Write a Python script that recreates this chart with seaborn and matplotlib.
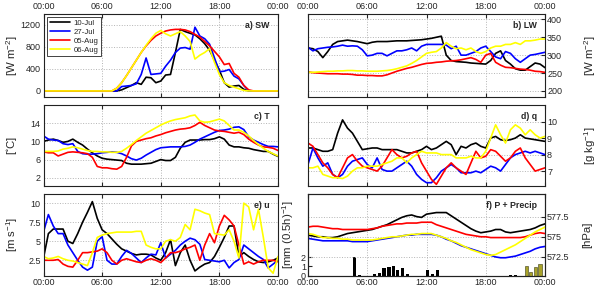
import numpy as np
import pandas as pd
import matplotlib
matplotlib.use('Agg')
import matplotlib.pyplot as plt
import seaborn as sns
from matplotlib.ticker import FuncFormatter

'''
data, half hourly from 00:00 to 24:00
'''
hours = np.arange(0, 24.5, 0.5)
days = ['10-Jul', '27-Jul', '05-Aug', '06-Aug']
day_colors = ['black', '#0000ff', '#ff0000', '#ffff00']

# a) SW  [W m-2]
sw_jul10 = [0]*16 + [20, 60, 100, 150, 120, 250, 240, 150, 180, 290, 300, 700, 1120, 1080, 1050, 1020,
                     950, 860, 740, 560, 380, 150, 70, 90, 100, 30, 0] + [0]*6
sw_jul27 = [0]*16 + [80, 90, 100, 130, 300, 600, 300, 310, 320, 450, 560, 700, 780, 790, 760, 1160,
                     1000, 950, 850, 600, 350, 360, 390, 270, 220, 100, 0] + [0]*6
sw_aug05 = [0]*15 + [50, 150, 280, 420, 560, 700, 820, 920, 1000, 1050, 1090, 1110, 1120, 1120, 1110,
                     1080, 1030, 980, 900, 820, 720, 620, 480, 500, 320, 250, 100, 20, 0] + [0]*5
sw_aug06 = [0]*15 + [50, 150, 280, 420, 560, 700, 830, 950, 1050, 1100, 1040, 1000, 1040, 1080, 1000,
                     900, 580, 650, 700, 770, 520, 300, 150, 100, 70, 40, 10, 0, 0] + [0]*5

# b) LW  [W m-2]
lw_jul10 = [320, 318, 310, 293, 310, 330, 338, 340, 342, 340, 338, 335,
            332, 336, 338, 338, 338, 339, 340, 340, 340, 341, 342, 343,
            345, 347, 350, 353, 300, 285, 282, 281, 280, 278, 277, 276,
            275, 285, 305, 312, 285, 275, 262, 258, 258, 268, 278, 275, 265]
lw_jul27 = [322, 312, 318, 320, 322, 323, 325, 328, 325, 326, 325, 315,
            298, 300, 305, 305, 298, 305, 312, 312, 315, 320, 312, 325,
            330, 330, 330, 330, 328, 318, 325, 300, 300, 305, 310, 320,
            325, 310, 295, 290, 310, 305, 290, 280, 290, 300, 302, 305, 308]
lw_aug05 = [253, 251, 250, 249, 248, 248, 248, 247, 247, 246, 244, 244,
            243, 243, 242, 242, 245, 250, 255, 259, 263, 266, 270, 274,
            277, 278, 280, 281, 283, 284, 285, 287, 290, 293, 288, 280,
            300, 305, 280, 272, 266, 265, 263, 261, 260, 258, 255, 254, 252]
lw_aug06 = [252, 252, 253, 254, 255, 255, 256, 256, 257, 257, 256, 256,
            255, 255, 255, 256, 257, 259, 262, 266, 270, 277, 285, 295,
            305, 308, 310, 320, 335, 325, 318, 320, 315, 320, 310, 305,
            310, 320, 325, 325, 330, 330, 335, 330, 340, 340, 342, 345, 345]

# c) T  [degC]
t_jul10 = [10.0, 10.3, 10.5, 10.2, 9.8, 10.0, 10.5, 9.8, 9.2, 8.3, 7.5, 6.8,
           6.3, 6.1, 6.0, 5.9, 5.8, 5.2, 5.0, 5.0, 5.0, 5.1, 5.2, 5.6,
           6.0, 5.8, 5.8, 6.5, 8.5, 9.8, 10.3, 10.3, 10.3, 10.4, 10.4, 10.6,
           11.0, 10.5, 9.2, 8.8, 8.8, 8.6, 8.5, 8.2, 8.0, 7.8, 7.8, 7.2, 6.7]
t_jul27 = [11.2, 10.5, 10.3, 10.2, 9.5, 9.3, 9.5, 7.8, 7.3, 7.2, 7.2, 7.3,
           7.5, 7.6, 7.7, 7.6, 7.3, 6.8, 6.2, 5.9, 6.3, 7.0, 7.6, 8.2,
           8.6, 8.7, 8.8, 8.8, 8.8, 8.9, 9.2, 9.8, 10.5, 11.0, 11.5, 12.0,
           12.4, 12.5, 12.7, 13.1, 13.2, 12.6, 11.0, 10.3, 9.8, 9.3, 8.9, 8.9, 8.8]
t_aug05 = [7.7, 7.5, 7.5, 6.8, 7.2, 7.6, 7.7, 7.6, 7.5, 7.3, 6.5, 4.5,
           4.2, 4.2, 4.0, 3.9, 4.5, 6.5, 9.0, 10.0, 10.3, 10.6, 10.8, 11.2,
           11.5, 11.9, 12.2, 12.5, 12.7, 12.8, 13.0, 13.5, 14.2, 13.5, 13.0, 12.5,
           12.3, 12.2, 12.0, 11.8, 12.0, 11.5, 10.5, 9.8, 9.2, 8.8, 8.7, 8.5, 8.0]
t_aug06 = [7.8, 7.8, 7.8, 7.9, 8.3, 8.5, 8.8, 8.6, 8.3, 8.0, 7.8, 7.8,
           7.7, 7.7, 7.6, 7.6, 7.8, 8.5, 9.3, 10.2, 11.0, 11.8, 12.4, 13.0,
           13.6, 14.1, 14.5, 14.8, 15.0, 15.2, 15.6, 15.8, 14.5, 14.2, 14.3, 14.6,
           14.9, 14.5, 13.5, 12.5, 12.5, 12.0, 11.2, 10.2, 9.3, 8.5, 7.8, 7.3, 6.8]

# d) q  [g kg-1]
q_jul10 = [8.4, 8.4, 8.3, 8.2, 8.2, 8.3, 9.3, 10.1, 9.6, 9.3, 8.8, 8.3,
           8.35, 8.4, 8.4, 8.3, 8.3, 8.3, 8.3, 8.2, 8.1, 8.1, 8.2, 8.3,
           8.5, 8.3, 8.4, 8.6, 8.8, 8.6, 8.0, 8.5, 8.4, 8.6, 8.7, 8.5,
           8.4, 9.0, 9.1, 8.9, 8.85, 8.9, 9.0, 9.2, 9.0, 8.95, 8.9, 8.85, 8.8]
q_jul27 = [7.4, 8.4, 7.8, 7.3, 7.5, 6.8, 6.6, 6.8, 7.3, 7.6, 7.7, 7.8,
           7.4, 7.2, 7.8, 7.1, 7.0, 7.0, 7.2, 7.4, 7.6, 7.3, 6.8, 6.5,
           6.3, 6.3, 6.6, 7.0, 7.2, 7.4, 7.2, 6.9, 6.9, 6.9, 7.0, 6.9,
           7.1, 7.3, 7.2, 7.0, 7.4, 7.8, 8.0, 8.1, 8.2, 8.1, 8.2, 8.1, 8.0]
q_aug05 = [8.7, 8.5, 8.0, 7.5, 7.2, 6.8, 6.6, 7.2, 7.8, 8.0, 7.6, 7.3,
           7.2, 7.1, 7.0, 7.3, 7.8, 8.3, 8.0, 7.8, 7.9, 8.1, 8.2, 7.5,
           7.0, 6.5, 6.2, 6.7, 7.2, 7.5, 7.2, 7.0, 6.8, 7.5, 8.2, 7.8,
           7.9, 8.3, 8.2, 7.9, 7.6, 7.8, 8.2, 8.4, 7.8, 7.4, 7.0, 7.1, 7.2]
q_aug06 = [7.2, 7.2, 7.3, 6.8, 6.7, 6.6, 6.6, 6.55, 6.7, 7.0, 7.2, 7.2,
           7.3, 7.3, 7.3, 7.4, 7.5, 7.6, 7.8, 7.8, 7.5, 7.8, 8.0, 8.2,
           8.1, 8.1, 8.1, 8.0, 8.0, 8.0, 7.8, 7.8, 7.8, 7.9, 7.8, 7.8,
           8.2, 9.0, 9.8, 9.2, 8.7, 9.5, 9.8, 9.6, 9.2, 9.5, 9.2, 9.0, 9.1]

# e) u  [m s-1]
u_jul10 = [2.8, 6.0, 6.6, 6.6, 6.6, 5.0, 4.7, 6.0, 7.5, 8.8, 10.2, 8.0,
           6.5, 6.0, 5.3, 4.6, 4.0, 3.7, 3.4, 3.2, 3.3, 3.3, 3.2, 2.8,
           2.5, 3.5, 5.2, 1.8, 3.5, 4.5, 2.5, 1.1, 1.6, 2.0, 2.2, 3.0,
           4.2, 5.5, 7.0, 7.0, 3.0, 3.5, 3.0, 2.6, 2.3, 2.2, 2.3, 2.5, 2.8]
u_jul27 = [6.2, 8.5, 7.0, 6.0, 6.0, 4.5, 3.5, 2.5, 1.6, 1.2, 1.6, 5.0,
           5.6, 2.5, 2.0, 2.0, 3.0, 3.8, 3.4, 2.8, 2.2, 2.8, 3.3, 3.2,
           4.8, 2.8, 3.3, 3.8, 4.5, 5.0, 5.4, 5.2, 4.6, 2.6, 2.5, 2.4,
           2.3, 2.5, 1.5, 2.2, 2.6, 4.5, 4.0, 3.5, 3.0, 2.6, 1.5, 2.0, 2.5]
u_aug05 = [2.5, 2.5, 2.5, 2.6, 2.0, 1.7, 1.6, 2.5, 3.5, 3.5, 3.6, 3.7,
           4.0, 3.5, 2.5, 2.0, 2.5, 2.7, 2.5, 2.3, 2.2, 2.5, 2.7, 2.5,
           2.2, 2.8, 3.5, 3.5, 3.7, 4.0, 4.2, 4.5, 2.5, 4.5, 6.0, 4.8,
           7.0, 8.4, 7.8, 7.0, 4.5, 2.0, 2.3, 2.0, 2.3, 2.5, 2.5, 2.5, 2.3]
u_aug06 = [3.0, 2.7, 2.8, 3.0, 2.7, 2.5, 2.4, 2.2, 2.0, 1.8, 3.5, 5.5,
           5.8, 6.0, 6.1, 6.2, 6.2, 6.2, 6.2, 6.3, 6.3, 4.5, 4.2, 4.0,
           4.0, 5.0, 5.2, 5.0, 5.5, 7.2, 6.5, 9.2, 9.0, 8.7, 8.5, 6.0,
           5.9, 5.8, 6.5, 5.0, 2.8, 10.0, 9.5, 6.5, 9.2, 5.5, 1.5, 0.8, 3.0]

# f) pressure [hPa]
p_jul10 = [575.2, 575.1, 575.0, 575.0, 574.9, 574.9, 575.0, 575.2, 575.4, 575.5, 575.6, 575.7,
           575.8, 575.9, 576.1, 576.3, 576.5, 576.8, 577.1, 577.4, 577.6, 577.7, 577.5, 577.4,
           577.8, 577.9, 578.0, 578.0, 578.0, 577.6, 577.2, 576.8, 576.4, 576.0, 575.7, 575.5,
           575.6, 575.7, 575.9, 575.9, 575.6, 575.5, 575.6, 575.7, 575.8, 575.9, 576.1, 576.4, 576.6]
p_jul27 = [574.8, 574.7, 574.6, 574.5, 574.5, 574.5, 574.5, 574.5, 574.5, 574.4, 574.4, 574.4,
           574.4, 574.5, 574.6, 574.7, 574.8, 574.9, 575.0, 575.1, 575.2, 575.2, 575.3, 575.3,
           575.3, 575.3, 575.2, 575.0, 574.7, 574.5, 574.2, 573.9, 573.7, 573.5, 573.3, 573.1,
           572.9, 572.7, 572.5, 572.4, 572.4, 572.5, 572.6, 572.8, 573.0, 573.2, 573.5, 573.7, 573.8]
p_aug05 = [576.2, 576.3, 576.3, 576.2, 576.1, 576.0, 576.0, 575.9, 575.9, 575.9, 575.9, 575.9,
           575.9, 576.0, 576.1, 576.3, 576.4, 576.5, 576.6, 576.6, 576.7, 576.7, 576.7, 576.8,
           576.8, 576.8, 576.5, 576.3, 576.1, 575.9, 575.7, 575.5, 575.3, 575.2, 575.1, 575.0,
           575.0, 574.9, 574.9, 574.9, 574.9, 574.9, 574.9, 574.9, 575.0, 575.2, 575.4, 575.5, 575.4]
p_aug06 = [575.4, 575.3, 575.1, 574.9, 574.9, 574.8, 574.8, 574.7, 574.7, 574.6, 574.6, 574.6,
           574.6, 574.6, 574.7, 574.8, 574.9, 575.0, 575.0, 575.1, 575.2, 575.3, 575.3, 575.4,
           575.4, 575.4, 575.2, 575.0, 574.8, 574.5, 574.3, 574.0, 573.7, 573.4, 573.2, 573.0,
           572.8, 572.7, 572.8, 573.1, 573.4, 573.7, 574.0, 574.4, 574.8, 575.2, 575.6, 575.9, 576.2]

# f) precip [mm (0.5h)-1]
precip_jul10_t = [4.7, 5.2, 6.7, 7.2, 7.7, 8.2, 8.65, 9.1, 9.6, 10.1, 12.1, 12.6, 13.1, 20.5, 21.0]
precip_jul10 = [2.0, 0.1, 0.2, 0.3, 0.8, 0.9, 1.05, 0.6, 0.8, 0.15, 0.6, 0.15, 0.6, 0.05, 0.05]
precip_aug06_t = [22.1, 22.55, 23.05, 23.5]
precip_aug06 = [1.0, 0.4, 0.9, 1.3]


def long_form(series):
    frames = []
    for day, vals in zip(days, series):
        frames.append(pd.DataFrame({'hour': hours, 'val': vals, 'day': day}))
    return pd.concat(frames, ignore_index=True)


'''
plot
'''
sns.set_style('white')
plt.rcParams['font.family'] = ['Liberation Sans', 'DejaVu Sans']
plt.rcParams['mathtext.default'] = 'regular'

fig = plt.figure(figsize=(5.97, 2.9), dpi=100)
W, H = 597., 290.
col_x = [(43.5, 278), (308, 545)]
row_y = [(14, 97), (105, 186), (194, 275.5)]


def make_ax(r, c):
    x0, x1 = col_x[c]
    y0, y1 = row_y[r]
    return fig.add_axes([x0 / W, 1 - y1 / H, (x1 - x0) / W, (y1 - y0) / H])


panels = [
    ('a) SW', [sw_jul10, sw_jul27, sw_aug05, sw_aug06], '[W m$^{-2}$]', (-110, 1400), [0, 400, 800, 1200], None),
    ('b) LW', [lw_jul10, lw_jul27, lw_aug05, lw_aug06], '[W m$^{-2}$]', (183, 415), [200, 250, 300, 350, 400], None),
    ('c) T', [t_jul10, t_jul27, t_aug05, t_aug06], '[$^{\\circ}$C]', (0.2, 18), [2, 6, 10, 14], None),
    ('d) q', [q_jul10, q_jul27, q_aug05, q_aug06], '[g kg$^{-1}$]', (6.1, 11), [7, 8, 9, 10], None),
    ('e) u', [u_jul10, u_jul27, u_aug05, u_aug06], '[m s$^{-1}$]', (0.5, 11.2), [2.5, 5, 7.5, 10], ['2.5', '5', '7.5', '10']),
    ('f) P + Precip', [p_jul10, p_jul27, p_aug05, p_aug06], '[hPa]', (570.2, 580.3), [572.5, 575, 577.5], ['572.5', '575', '577.5']),
]

tfmt = FuncFormatter(lambda v, p: '%02d:00' % (int(round(v)) % 24))
grid_kw = dict(color='#b4b4b4', linestyle=':', linewidth=0.7)
fs_tick = 6.5
fs_lab = 8.2

for i, (title, series, ylab, ylim, yticks, yticklabels) in enumerate(panels):
    r, c = i // 2, i % 2
    base = make_ax(r, c)
    if title.startswith('f'):
        ax = base.twinx()
        # precipitation bars on the left axis
        base.bar(precip_jul10_t, precip_jul10, width=0.32, color='black', linewidth=0, zorder=2)
        base.bar(precip_aug06_t, precip_aug06, width=0.32, color='#a8a22a', edgecolor='#3a3a10',
                 linewidth=0.4, zorder=2)
        base.set_ylim(0, 9)
        base.set_yticks([0, 1, 2])
        base.set_ylabel('[mm (0.5h)$^{-1}$]', fontsize=fs_lab, va='center')
        base.yaxis.set_label_coords((288 - 308) / 237., 0.5)
        base.tick_params(axis='y', direction='in', length=3, labelsize=fs_tick, pad=1.5)
        base.set_xlim(0, 24)
        base.set_xticks([0, 6, 12, 18, 24])
        base.xaxis.grid(True, **grid_kw)
        base.set_axisbelow(True)
    else:
        ax = base

    df = long_form(series)
    sns.lineplot(data=df, x='hour', y='val', hue='day', hue_order=days, palette=day_colors,
                 linewidth=1.2, ax=ax, legend=(i == 0))

    ax.set_xlim(0, 24)
    ax.set_ylim(*ylim)
    ax.set_xticks([0, 6, 12, 18, 24])
    ax.xaxis.set_major_formatter(tfmt)
    ax.set_yticks(yticks)
    if yticklabels is not None:
        ax.set_yticklabels(yticklabels)
    ax.set_xlabel('')
    ax.set_ylabel(ylab, fontsize=fs_lab, va='center')
    ax.grid(True, **grid_kw)
    for s in ax.spines.values():
        s.set_color('#222222')
        s.set_linewidth(0.8)

    ax.tick_params(direction='in', length=3, labelsize=fs_tick, pad=2, top=True, bottom=True)
    if r == 0:
        ax.tick_params(axis='x', labeltop=True, labelbottom=False)
    elif r == 1:
        ax.tick_params(axis='x', labeltop=False, labelbottom=False)
    else:
        ax.tick_params(axis='x', labeltop=False, labelbottom=True)
    if title.startswith('f'):
        base.tick_params(axis='x', direction='in', length=3, labelsize=fs_tick, pad=2, top=True,
                         labelbottom=True)
        base.xaxis.set_major_formatter(tfmt)
        ax.tick_params(axis='x', labelbottom=False)

    if c == 0:
        ax.yaxis.set_label_coords((12 - 43.5) / 234.5, 0.5)
    else:
        ax.yaxis.tick_right()
        ax.yaxis.set_label_position('right')
        ax.tick_params(axis='y', direction='in', length=3, labelsize=fs_tick, pad=1.5)
        ax.yaxis.set_label_coords((582 - 308) / 237., 0.5)

    ax.text(0.965, 0.86, title, transform=ax.transAxes, ha='right', va='center',
            fontsize=6.3, fontweight='bold')

    if i == 0:
        h, l = ax.get_legend_handles_labels()
        ax.legend(h, l, loc='upper left', bbox_to_anchor=(0.01, 0.985), fontsize=5.6,
                  frameon=True, fancybox=False, edgecolor='#222222', framealpha=1,
                  handlelength=2.6, handletextpad=0.5, labelspacing=0.2, borderpad=0.3,
                  borderaxespad=0.2)
        ax.get_legend().get_frame().set_linewidth(0.6)

fig.savefig('out.png', dpi=100)
